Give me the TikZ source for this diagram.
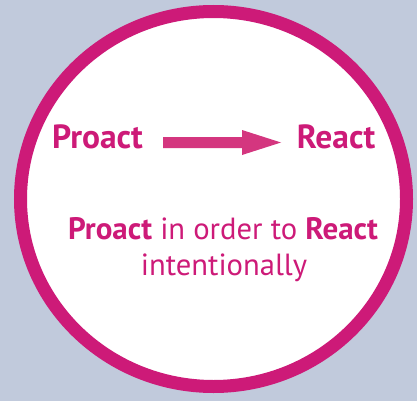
\documentclass[tikz,border=0pt]{standalone}
\usepackage{fontspec}
\setmainfont{PT Sans}
\definecolor{bg}{HTML}{C1CADC}
\definecolor{mag}{HTML}{CD1A78}
\definecolor{arr}{HTML}{D4367F}
\tikzset{
  lbl/.style={text=mag, font=\fontsize{33.5}{40}\selectfont\bfseries, inner sep=0pt, anchor=base},
  body/.style={text=mag, font=\fontsize{30.6}{36}\selectfont, inner sep=0pt, anchor=base}
}
\newcommand{\bw}[1]{{\fontsize{31}{36}\selectfont\bfseries #1}}
\begin{document}
\begin{tikzpicture}[x=1pt,y=-1pt]
\useasboundingbox (0,0) rectangle (417,401);
\fill[bg] (0,0) rectangle (417,401);
\draw[mag, line width=13pt, fill=white] (213.5,199) ellipse [x radius=193, y radius=187.5];
\node[lbl] (pro) at (97.5,148) {Proact};
\node[lbl] (rea) at (336,148) {React};
\fill[arr] (163,137) -- (242,137) -- (242,130) -- (281,142.5) -- (242,155) -- (242,148) -- (163,148) -- cycle;
\node[body] (l1) at (223,239) {\bw{Proact} in order to \bw{React}};
\node[body] (l2) at (224,275) {intentionally};
\end{tikzpicture}
\end{document}
